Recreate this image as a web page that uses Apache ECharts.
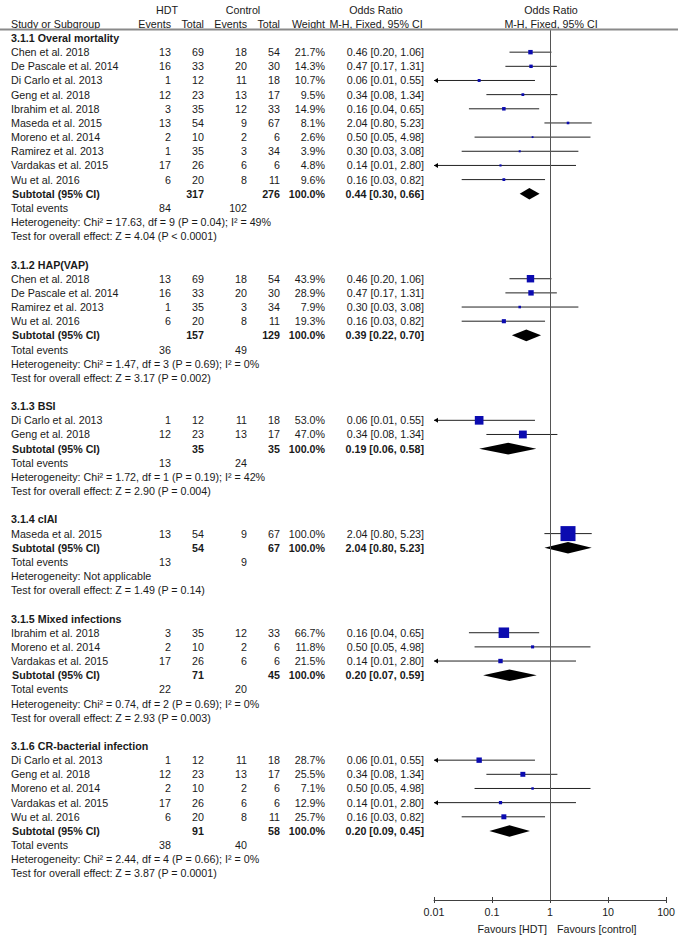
<!DOCTYPE html>
<html><head><meta charset="utf-8">
<script src="https://cdn.jsdelivr.net/npm/echarts@6/dist/echarts.min.js"></script>
<style>html,body{margin:0;padding:0;background:#fff}#c{width:678px;height:935px}</style>
</head><body><div id="c"></div>
<script>
// ---------------- DATA ----------------
const groupTitles = ["3.1.1 Overal mortality","3.1.2 HAP(VAP)","3.1.3 BSI","3.1.4 cIAI","3.1.5 Mixed infections","3.1.6 CR-bacterial infection"];

const mortStudy  = ["Chen et al. 2018","De Pascale et al. 2014","Di Carlo et al. 2013","Geng et al. 2018","Ibrahim et al. 2018","Maseda et al. 2015","Moreno et al. 2014","Ramirez et al. 2013","Vardakas et al. 2015","Wu et al. 2016"];
const mortHdtEv  = [13,16,1,12,3,13,2,1,17,6];
const mortHdtTot = [69,33,12,23,35,54,10,35,26,20];
const mortCtlEv  = [18,20,11,13,12,9,2,3,6,8];
const mortCtlTot = [54,30,18,17,33,67,6,34,6,11];
const mortWeight = [21.7,14.3,10.7,9.5,14.9,8.1,2.6,3.9,4.8,9.6];
const mortOR     = [0.46,0.47,0.06,0.34,0.16,2.04,0.50,0.30,0.14,0.16];
const mortLo     = [0.20,0.17,0.01,0.08,0.04,0.80,0.05,0.03,0.01,0.03];
const mortHi     = [1.06,1.31,0.55,1.34,0.65,5.23,4.98,3.08,2.80,0.82];

const hapStudy  = ["Chen et al. 2018","De Pascale et al. 2014","Ramirez et al. 2013","Wu et al. 2016"];
const hapHdtEv  = [13,16,1,6];
const hapHdtTot = [69,33,35,20];
const hapCtlEv  = [18,20,3,8];
const hapCtlTot = [54,30,34,11];
const hapWeight = [43.9,28.9,7.9,19.3];
const hapOR     = [0.46,0.47,0.30,0.16];
const hapLo     = [0.20,0.17,0.03,0.03];
const hapHi     = [1.06,1.31,3.08,0.82];

const bsiStudy  = ["Di Carlo et al. 2013","Geng et al. 2018"];
const bsiHdtEv  = [1,12];
const bsiHdtTot = [12,23];
const bsiCtlEv  = [11,13];
const bsiCtlTot = [18,17];
const bsiWeight = [53.0,47.0];
const bsiOR     = [0.06,0.34];
const bsiLo     = [0.01,0.08];
const bsiHi     = [0.55,1.34];

const ciaiStudy  = ["Maseda et al. 2015"];
const ciaiHdtEv  = [13];
const ciaiHdtTot = [54];
const ciaiCtlEv  = [9];
const ciaiCtlTot = [67];
const ciaiWeight = [100.0];
const ciaiOR     = [2.04];
const ciaiLo     = [0.80];
const ciaiHi     = [5.23];

const mixStudy  = ["Ibrahim et al. 2018","Moreno et al. 2014","Vardakas et al. 2015"];
const mixHdtEv  = [3,2,17];
const mixHdtTot = [35,10,26];
const mixCtlEv  = [12,2,6];
const mixCtlTot = [33,6,6];
const mixWeight = [66.7,11.8,21.5];
const mixOR     = [0.16,0.50,0.14];
const mixLo     = [0.04,0.05,0.01];
const mixHi     = [0.65,4.98,2.80];

const crStudy  = ["Di Carlo et al. 2013","Geng et al. 2018","Moreno et al. 2014","Vardakas et al. 2015","Wu et al. 2016"];
const crHdtEv  = [1,12,2,17,6];
const crHdtTot = [12,23,10,26,20];
const crCtlEv  = [11,13,2,6,8];
const crCtlTot = [18,17,6,6,11];
const crWeight = [28.7,25.5,7.1,12.9,25.7];
const crOR     = [0.06,0.34,0.50,0.14,0.16];
const crLo     = [0.01,0.08,0.05,0.01,0.03];
const crHi     = [0.55,1.34,4.98,2.80,0.82];

const subHdtTotal = [317,157,35,54,71,91];
const subCtlTotal = [276,129,35,67,45,58];
const subOR = [0.44,0.39,0.19,2.04,0.20,0.20];
const subLo = [0.30,0.22,0.06,0.80,0.07,0.09];
const subHi = [0.66,0.70,0.58,5.23,0.59,0.45];
const totHdtEvents = [84,36,13,13,22,38];
const totCtlEvents = [102,49,24,9,20,40];
const hetText = [
  "Heterogeneity: Chi² = 17.63, df = 9 (P = 0.04); I² = 49%",
  "Heterogeneity: Chi² = 1.47, df = 3 (P = 0.69); I² = 0%",
  "Heterogeneity: Chi² = 1.72, df = 1 (P = 0.19); I² = 42%",
  "Heterogeneity: Not applicable",
  "Heterogeneity: Chi² = 0.74, df = 2 (P = 0.69); I² = 0%",
  "Heterogeneity: Chi² = 2.44, df = 4 (P = 0.66); I² = 0%"
];
const testText = [
  "Test for overall effect: Z = 4.04 (P < 0.0001)",
  "Test for overall effect: Z = 3.17 (P = 0.002)",
  "Test for overall effect: Z = 2.90 (P = 0.004)",
  "Test for overall effect: Z = 1.49 (P = 0.14)",
  "Test for overall effect: Z = 2.93 (P = 0.003)",
  "Test for overall effect: Z = 3.87 (P = 0.0001)"
];
const tickLabels = ["0.01","0.1","1","10","100"];
const favoursLeft = "Favours [HDT]";
const favoursRight = "Favours [control]";

// ---------------- LAYOUT ----------------
const groups = [
  {s:mortStudy,he:mortHdtEv,ht:mortHdtTot,ce:mortCtlEv,ct:mortCtlTot,w:mortWeight,or:mortOR,lo:mortLo,hi:mortHi},
  {s:hapStudy,he:hapHdtEv,ht:hapHdtTot,ce:hapCtlEv,ct:hapCtlTot,w:hapWeight,or:hapOR,lo:hapLo,hi:hapHi},
  {s:bsiStudy,he:bsiHdtEv,ht:bsiHdtTot,ce:bsiCtlEv,ct:bsiCtlTot,w:bsiWeight,or:bsiOR,lo:bsiLo,hi:bsiHi},
  {s:ciaiStudy,he:ciaiHdtEv,ht:ciaiHdtTot,ce:ciaiCtlEv,ct:ciaiCtlTot,w:ciaiWeight,or:ciaiOR,lo:ciaiLo,hi:ciaiHi},
  {s:mixStudy,he:mixHdtEv,ht:mixHdtTot,ce:mixCtlEv,ct:mixCtlTot,w:mixWeight,or:mixOR,lo:mixLo,hi:mixHi},
  {s:crStudy,he:crHdtEv,ht:crHdtTot,ce:crCtlEv,ct:crCtlTot,w:crWeight,or:crOR,lo:crLo,hi:crHi}
];
const W = 678, H = 935;
const ROW0 = 38, ROW_H = 14.16;
const PLOT_L = 434, PLOT_R = 669, AXIS_Y = 900, HEAD_Y = 29.5;
const COL = {study:11, hdtEv:171, hdtTot:204, ctlEv:247, ctlTot:280, weight:325, orTxt:424,
             hdtHead:167, ctlHead:243, orHead:376, plotHead:551, favL:547, favR:557};
const FONT = '"Liberation Sans", Arial, Helvetica, sans-serif';
const FS = 10.7;
const TXT = '#1a1a1a';
const rowOf = y => (y - ROW0) / ROW_H;
const fmtCI = (o,l,h) => o.toFixed(2) + ' [' + l.toFixed(2) + ', ' + h.toFixed(2) + ']';

const cells = [];
const marks = [];
function cell(x,row,text,align,bold){ cells.push({x,row,text:String(text),align,bold:!!bold}); }

// headers
cell(COL.hdtHead, rowOf(9.7), "HDT", 'center');
cell(COL.ctlHead, rowOf(9.7), "Control", 'center');
cell(COL.orHead, rowOf(9.7), "Odds Ratio", 'center');
cell(COL.plotHead, rowOf(9.7), "Odds Ratio", 'center');
cell(COL.study, rowOf(23.8), "Study or Subgroup", 'left');
cell(COL.hdtEv, rowOf(23.8), "Events", 'right');
cell(COL.hdtTot, rowOf(23.8), "Total", 'right');
cell(COL.ctlEv, rowOf(23.8), "Events", 'right');
cell(COL.ctlTot, rowOf(23.8), "Total", 'right');
cell(COL.weight, rowOf(23.8), "Weight", 'right');
cell(COL.orHead, rowOf(23.8), "M-H, Fixed, 95% CI", 'center');
cell(COL.plotHead, rowOf(23.8), "M-H, Fixed, 95% CI", 'center');
cell(COL.favL, rowOf(929), favoursLeft, 'right');
cell(COL.favR, rowOf(929), favoursRight, 'left');

let r = 0;
groups.forEach((G, gi) => {
  cell(COL.study, r, groupTitles[gi], 'left', true); r++;
  G.s.forEach((name, i) => {
    cell(COL.study, r, name, 'left');
    cell(COL.hdtEv, r, G.he[i], 'right');
    cell(COL.hdtTot, r, G.ht[i], 'right');
    cell(COL.ctlEv, r, G.ce[i], 'right');
    cell(COL.ctlTot, r, G.ct[i], 'right');
    cell(COL.weight, r, G.w[i].toFixed(1) + '%', 'right');
    cell(COL.orTxt, r, fmtCI(G.or[i], G.lo[i], G.hi[i]), 'right');
    marks.push({kind:'sq', row:r, or:G.or[i], lo:G.lo[i], hi:G.hi[i], w:G.w[i]});
    r++;
  });
  cell(COL.study + 1, r, "Subtotal (95% CI)", 'left', true);
  cell(COL.hdtTot, r, subHdtTotal[gi], 'right', true);
  cell(COL.ctlTot, r, subCtlTotal[gi], 'right', true);
  cell(COL.weight, r, "100.0%", 'right', true);
  cell(COL.orTxt, r, fmtCI(subOR[gi], subLo[gi], subHi[gi]), 'right', true);
  marks.push({kind:'dia', row:r, or:subOR[gi], lo:subLo[gi], hi:subHi[gi]});
  r++;
  cell(COL.study, r, "Total events", 'left');
  cell(COL.hdtEv, r, totHdtEvents[gi], 'right');
  cell(COL.ctlEv, r, totCtlEvents[gi], 'right');
  r++;
  cell(COL.study, r, hetText[gi], 'left'); r++;
  cell(COL.study, r, testText[gi], 'left'); r++;
  r++;
});

const XMIN = 0.01, XMAX = 100;
const chart = echarts.init(document.getElementById('c'), null, {renderer:'svg', width:W, height:H});
chart.setOption({
  animation: false,
  backgroundColor: '#ffffff',
  grid: [
    {left:0, right:0, top:0, bottom:0},
    {left:PLOT_L, right:W-PLOT_R, top:HEAD_Y, bottom:H-AXIS_Y}
  ],
  xAxis: [
    {gridIndex:0, type:'value', min:0, max:W, show:false},
    {gridIndex:1, type:'log', logBase:10, min:XMIN, max:XMAX, splitNumber:4, position:'bottom',
     axisLine:{show:true, onZero:false, lineStyle:{color:'#404040', width:1}},
     axisTick:{show:true, length:3, lineStyle:{color:'#404040'}},
     axisLabel:{margin:6, fontSize:FS, fontFamily:FONT, color:TXT,
       formatter: v => tickLabels[Math.round(Math.log10(v)) + 2]},
     splitLine:{show:false}},
    {gridIndex:1, type:'log', logBase:10, min:XMIN, max:XMAX, splitNumber:4, position:'bottom', offset:0,
     axisLine:{show:false, onZero:false}, axisTick:{show:true, inside:true, length:3, lineStyle:{color:'#404040'}},
     axisLabel:{show:false}, splitLine:{show:false}}
  ],
  yAxis: [
    {gridIndex:0, type:'value', inverse:true, min:rowOf(0), max:rowOf(H), show:false},
    {gridIndex:1, type:'value', inverse:true, min:rowOf(HEAD_Y), max:rowOf(AXIS_Y), show:false}
  ],
  graphic: [
    {type:'line', shape:{x1:0, y1:HEAD_Y, x2:W, y2:HEAD_Y}, style:{stroke:'#8a8a8a', lineWidth:2}, z:10}
  ],
  series: [
    {
      type:'custom', xAxisIndex:0, yAxisIndex:0, silent:true, clip:false,
      data: cells.map(c => [c.x, c.row]),
      renderItem: (params, api) => {
        const c = cells[params.dataIndex];
        const p = api.coord([c.x, c.row]);
        return {type:'text', x:p[0], y:p[1], style:{text:c.text, align:c.align, verticalAlign:'middle',
          fill:TXT, fontSize:FS, fontFamily:FONT, fontWeight:c.bold?'bold':'normal'}};
      }
    },
    {
      type:'custom', xAxisIndex:1, yAxisIndex:1, silent:true, clip:false,
      data: marks.map(m => [m.or, m.row]),
      renderItem: (params, api) => {
        const m = marks[params.dataIndex];
        const pc = api.coord([m.or, m.row]);
        const pl = api.coord([Math.max(m.lo, XMIN), m.row]);
        const ph = api.coord([Math.min(m.hi, XMAX), m.row]);
        const y = pc[1];
        if (m.kind === 'dia') {
          const h = 5.8;
          return {type:'polygon', shape:{points:[[pl[0],y],[pc[0],y-h],[ph[0],y],[pc[0],y+h]]},
                  style:{fill:'#000000'}};
        }
        const children = [
          {type:'line', shape:{x1:pl[0], y1:y, x2:ph[0], y2:y}, style:{stroke:'#222222', lineWidth:1}}
        ];
        if (m.lo <= XMIN) {
          children.push({type:'polygon', shape:{points:[[pl[0],y],[pl[0]+4,y-2.5],[pl[0]+4,y+2.5]]},
                         style:{fill:'#000000'}});
        }
        const s = 1.5 + 0.135 * m.w;
        children.push({type:'rect', shape:{x:pc[0]-s/2, y:y-s/2, width:s, height:s},
                       style:{fill:'#0b0bb0'}});
        return {type:'group', children};
      },
      markLine: {
        silent:true, symbol:['none','none'], label:{show:false},
        lineStyle:{color:'#555555', width:1, type:'solid'},
        data:[{xAxis:1}]
      }
    }
  ]
});
</script>
</body></html>
